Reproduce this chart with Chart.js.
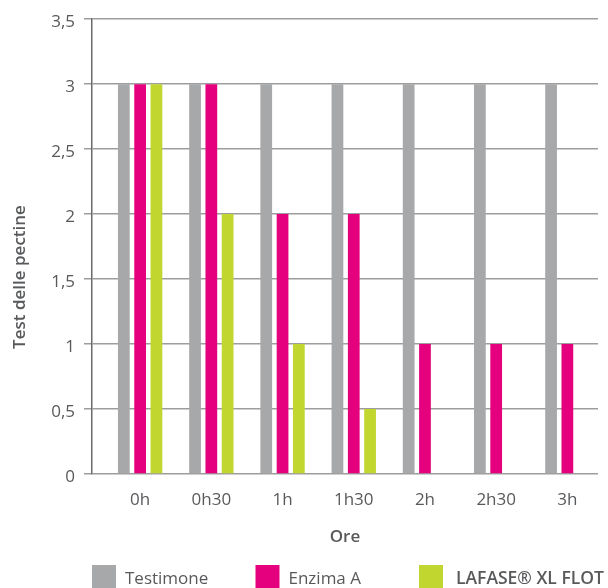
<!DOCTYPE html>
<html>
<head>
<meta charset="utf-8">
<script src="https://cdn.jsdelivr.net/npm/chart.js@4"></script>
<style>
  body { margin: 0; background: #fff; }
  canvas { display: block; }
</style>
</head>
<body>
<canvas id="chart" width="608" height="588"></canvas>
<script>
const categories = ['0h', '0h30', '1h', '1h30', '2h', '2h30', '3h'];
const testimone = [3, 3, 3, 3, 3, 3, 3];
const enzimaA = [3, 3, 2, 2, 1, 1, 1];
const lafase = [3, 2, 1, 0.5, null, null, null];
const yTicks = [0, 0.5, 1, 1.5, 2, 2.5, 3, 3.5];

const FONT = "'Open Sans', sans-serif";
const TEXT = '#58595b';

const toPoints = (arr) => arr.map((v, i) => ({ x: i, y: v }));

// legend at the bottom, fixed slots from the plot's left edge
const bottomLegend = {
    id: 'bottomLegend',
    afterDraw(chart) {
        const { ctx, chartArea } = chart;
        ctx.save();
        chart.data.datasets.forEach((ds, i) => {
            const x = chartArea.left + i * 163.5;
            const bold = i === 2;
            ctx.fillStyle = ds.backgroundColor;
            ctx.fillRect(x, 565, 24, 24);
            ctx.fillStyle = TEXT;
            ctx.font = (bold ? '600 17.5px ' : '400 17px ') + FONT;
            ctx.textAlign = 'left';
            ctx.textBaseline = 'alphabetic';
            ctx.fillText(ds.label, x + (bold ? 37 : 33), 584);
        });
        // y title, sits a bit below the plot centre in the original
        ctx.translate(20, 277);
        ctx.rotate(-Math.PI / 2);
        ctx.font = '600 17px ' + FONT;
        ctx.textAlign = 'center';
        ctx.textBaseline = 'middle';
        ctx.fillText('Test delle pectine', 0, 0);
        ctx.restore();
    }
};

new Chart(document.getElementById('chart'), {
    type: 'bar',
    data: {
        datasets: [
            { label: 'Testimone', data: toPoints(testimone), backgroundColor: '#a7a8aa' },
            { label: 'Enzima A', data: toPoints(enzimaA), backgroundColor: '#e5007d' },
            { label: 'LAFASE® XL FLOT', data: toPoints(lafase), backgroundColor: '#c1d62e' },
        ],
    },
    options: {
        responsive: false,
        animation: false,
        layout: { padding: { top: 15, right: 10, left: 0, bottom: 0 } },
        datasets: {
            bar: { categoryPercentage: 0.687, barPercentage: 0.72, borderWidth: 0 },
        },
        plugins: {
            legend: { display: false },
            tooltip: { enabled: false },
        },
        scales: {
            x: {
                type: 'linear',
                offset: false,
                min: -0.676,
                max: 6.43,
                afterBuildTicks: (scale) => {
                    scale.ticks = categories.map((_, i) => ({ value: i }));
                },
                afterFit: (scale) => { scale.height = 114; },
                grid: { display: false, drawTicks: false, offset: false },
                border: { display: false },
                ticks: {
                    padding: 16,
                    color: TEXT,
                    font: { family: FONT, size: 17 },
                    callback: (v) => categories[v],
                    maxRotation: 0,
                    autoSkip: false,
                },
                title: {
                    display: true,
                    text: 'Ore',
                    color: TEXT,
                    font: { family: FONT, size: 17, weight: '600' },
                    padding: { top: 0, bottom: 41 },
                },
            },
            y: {
                min: 0,
                max: 3.5,
                afterBuildTicks: (scale) => {
                    scale.ticks = yTicks.map((v) => ({ value: v }));
                },
                afterFit: (scale) => { scale.width = 92; },
                grid: { color: '#9d9d9d', lineWidth: 1.5, tickLength: 8 },
                border: { display: true, color: '#6a6a6a', width: 1.5 },
                ticks: {
                    padding: 9,
                    labelOffset: 3,
                    color: TEXT,
                    font: { family: FONT, size: 17 },
                    callback: (v) => String(v).replace('.', ','),
                },
            },
        },
    },
    plugins: [bottomLegend],
});
</script>
</body>
</html>
